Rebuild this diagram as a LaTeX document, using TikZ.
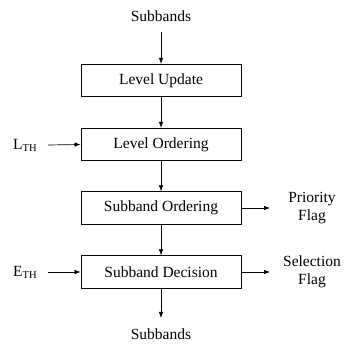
\documentclass[tikz,border=0pt]{standalone}
\usepackage{fontspec}
\setmainfont{Liberation Serif}
\usetikzlibrary{arrows.meta}
\begin{document}
\begin{tikzpicture}[x=1pt,y=-1pt,
  blk/.style={draw,line width=0.8pt,minimum width=160pt,minimum height=32.5pt,inner sep=0pt,font=\fontsize{15.5}{18}\selectfont},
  lbl/.style={inner sep=0pt,font=\fontsize{15.5}{17.5}\selectfont,align=center},
  arr/.style={line width=0.7pt,-{Latex[length=6pt,width=4.5pt]}}]
\useasboundingbox (0,0) rectangle (345,344);
\node[blk] (lu) at (161,80.5) {Level Update};
\node[blk] (lo) at (161,144.5) {Level Ordering};
\node[blk] (so) at (161,208) {Subband Ordering};
\node[blk] (sd) at (161,272) {Subband Decision};
\node[lbl] (in) at (161,16) {Subbands};
\node[lbl] (out) at (161,334) {Subbands};
\node[lbl,anchor=west] (lth) at (13,145) {L\raisebox{-2pt}{\fontsize{10.5}{12}\selectfont TH}};
\node[lbl,anchor=west] (eth) at (13,272) {E\raisebox{-2pt}{\fontsize{10.5}{12}\selectfont TH}};
\node[lbl] (pf) at (312,208) {Priority\\Flag};
\node[lbl] (sf) at (312,272) {Selection\\Flag};
\coordinate (inE) at (161,32);
\coordinate (outS) at (161,318);
\coordinate (lthE) at (48,145);
\coordinate (ethE) at (48,272);
\coordinate (pfW) at (270,208);
\coordinate (sfW) at (270,272);
\draw[arr] (inE) -- (lu.north);
\draw[arr] (lu.south) -- (lo.north);
\draw[arr] (lo.south) -- (so.north);
\draw[arr] (so.south) -- (sd.north);
\draw[arr] (sd.south) -- (outS);
\draw[arr] (lthE) -- (lo.west);
\draw[arr] (ethE) -- (sd.west);
\draw[arr] (so.east) -- (pfW);
\draw[arr] (sd.east) -- (sfW);
\end{tikzpicture}
\end{document}
